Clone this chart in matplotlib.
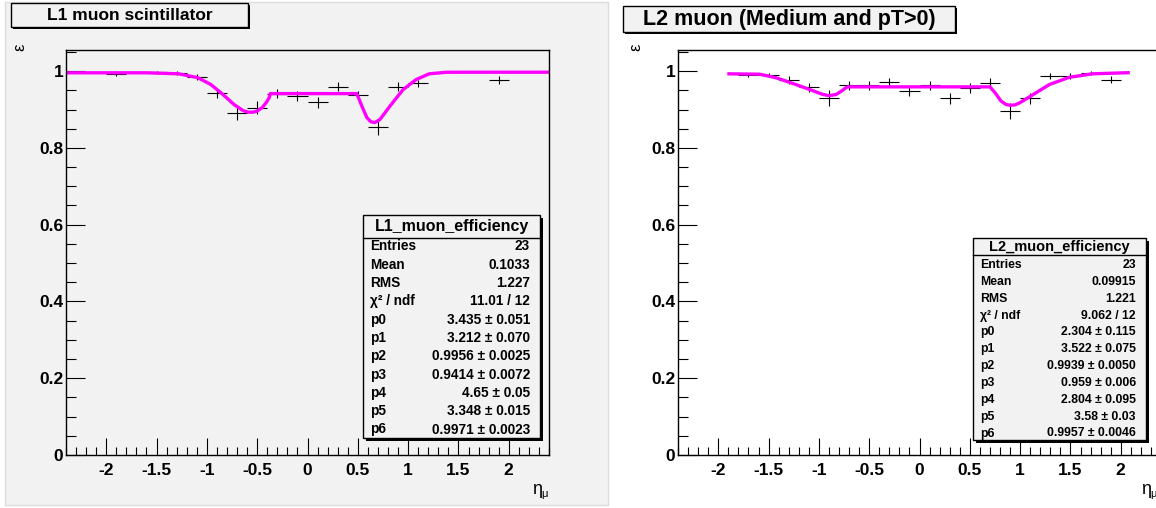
import numpy as np
import matplotlib.pyplot as plt
from matplotlib.patches import Rectangle
from matplotlib.ticker import MultipleLocator

W, H = 1156, 508

# ---- data ----
# L1 muon scintillator
l1_eta = [-1.9, -1.5, -1.3, -1.1, -0.9, -0.7, -0.5, -0.3, -0.1, 0.1, 0.3, 0.5, 0.7, 0.9, 1.1, 1.9]
l1_eff = [0.993, 0.997, 0.994, 0.984, 0.942, 0.892, 0.904, 0.941, 0.935, 0.919, 0.959, 0.939, 0.855, 0.959, 0.968, 0.977]
l1_err = [0.006, 0.004, 0.005, 0.008, 0.012, 0.02, 0.017, 0.012, 0.012, 0.014, 0.012, 0.01, 0.021, 0.012, 0.01, 0.011]
l1_fit_x = [-2.4, -1.6, -1.28, -1.09, -0.96, -0.84, -0.73, -0.64, -0.59, -0.54, -0.50, -0.45, -0.41, -0.38, -0.37, 0.49,
            0.54, 0.59, 0.63, 0.67, 0.72, 0.82, 0.95, 1.08, 1.21, 1.38, 1.6, 2.4]
l1_fit_y = [0.9956, 0.9956, 0.993, 0.983, 0.965, 0.939, 0.913, 0.897, 0.893, 0.893, 0.896, 0.905, 0.918, 0.931, 0.9414, 0.9414,
            0.909, 0.879, 0.868, 0.866, 0.874, 0.909, 0.952, 0.978, 0.993, 0.997, 0.9971, 0.9971]
l1_stats = [("Entries", "23"), ("Mean", "0.1033"), ("RMS", "1.227"), ("χ² / ndf", "11.01 / 12"),
            ("p0", "3.435 ± 0.051"), ("p1", "3.212 ± 0.070"), ("p2", "0.9956 ± 0.0025"),
            ("p3", "0.9414 ± 0.0072"), ("p4", "4.65 ± 0.05"), ("p5", "3.348 ± 0.015"),
            ("p6", "0.9971 ± 0.0023")]

# L2 muon (Medium and pT>0)
l2_eta = [-1.7, -1.5, -1.3, -1.1, -0.9, -0.7, -0.5, -0.3, -0.1, 0.1, 0.3, 0.5, 0.7, 0.9, 1.1, 1.3, 1.5, 1.7, 1.9]
l2_eff = [0.990, 0.991, 0.976, 0.958, 0.930, 0.963, 0.963, 0.972, 0.948, 0.963, 0.929, 0.955, 0.969, 0.896,
          0.929, 0.987, 0.987, 0.996, 0.978]
l2_err = [0.006, 0.005, 0.01, 0.012, 0.02, 0.012, 0.012, 0.01, 0.013, 0.012, 0.014, 0.013, 0.012, 0.021,
          0.014, 0.007, 0.007, 0.005, 0.01]
l2_fit_x = [-1.91, -1.59, -1.43, -1.26, -1.09, -0.97, -0.90, -0.83, -0.77, -0.73, -0.71, 0.70,
            0.75, 0.81, 0.86, 0.90, 0.95, 1.00, 1.13, 1.29, 1.49, 1.72, 2.09]
l2_fit_y = [0.993, 0.992, 0.983, 0.968, 0.952, 0.940, 0.936, 0.939, 0.949, 0.957, 0.959, 0.959,
            0.944, 0.922, 0.913, 0.911, 0.912, 0.918, 0.939, 0.965, 0.984, 0.993, 0.996]
l2_stats = [("Entries", "23"), ("Mean", "0.09915"), ("RMS", "1.221"), ("χ² / ndf", "9.062 / 12"),
            ("p0", "2.304 ± 0.115"), ("p1", "3.522 ± 0.075"), ("p2", "0.9939 ± 0.0050"),
            ("p3", "0.959 ± 0.006"), ("p4", "2.804 ± 0.095"), ("p5", "3.58 ± 0.03"),
            ("p6", "0.9957 ± 0.0046")]

plt.rcParams['font.family'] = ['Liberation Sans', 'DejaVu Sans']


def px(x, y):
    return x / W, 1 - y / H


def box(fig, x0, y0, x1, y1, face, shadow=2.5, zorder=5):
    fig.add_artist(Rectangle(px(x0 + shadow, y1 + shadow), (x1 - x0) / W, (y1 - y0) / H,
                             transform=fig.transFigure, facecolor='black', edgecolor='none', zorder=zorder))
    fig.add_artist(Rectangle(px(x0, y1), (x1 - x0) / W, (y1 - y0) / H, transform=fig.transFigure,
                             facecolor=face, edgecolor='black', linewidth=1, zorder=zorder + 0.1))


fig = plt.figure(figsize=(W / 100, H / 100), dpi=100, facecolor='white')

# left canvas background
fig.add_artist(Rectangle(px(5, 505), 603 / W, 503 / H, transform=fig.transFigure,
                         facecolor='#f2f2f2', edgecolor='#dcdcdc', linewidth=1, zorder=0))


def panel(left, face, eta, eff, err, fx, fy):
    ax = fig.add_axes([left / W, 1 - 455 / H, 483 / W, 405 / H], facecolor=face)
    ax.set_xlim(-2.4, 2.4)
    ax.set_ylim(0, 1.055)
    ax.errorbar(eta, eff, xerr=0.1, yerr=err, fmt='none', ecolor='black', elinewidth=0.8, capsize=0)
    ax.plot(fx, fy, color='#ff00ff', linewidth=2.4, solid_joinstyle='round', solid_capstyle='butt')
    ax.xaxis.set_major_locator(MultipleLocator(0.5))
    ax.xaxis.set_minor_locator(MultipleLocator(0.1))
    ax.yaxis.set_major_locator(MultipleLocator(0.2))
    ax.yaxis.set_minor_locator(MultipleLocator(0.05))
    ax.tick_params(which='both', direction='in', top=False, right=False, width=0.8, labelsize=12.5)
    ax.tick_params(axis='x', which='major', length=12, pad=6)
    ax.tick_params(axis='x', which='minor', length=6)
    ax.tick_params(axis='y', which='major', length=14, pad=2)
    ax.tick_params(axis='y', which='minor', length=7)
    ax.set_xticks([-2, -1.5, -1, -0.5, 0, 0.5, 1, 1.5, 2])
    ax.set_xticklabels(['-2', '-1.5', '-1', '-0.5', '0', '0.5', '1', '1.5', '2'], fontweight='bold')
    ax.set_yticks([0, 0.2, 0.4, 0.6, 0.8, 1])
    ax.set_yticklabels(['0', '0.2', '0.4', '0.6', '0.8', '1'], fontweight='bold')
    for s in ax.spines.values():
        s.set_linewidth(1)
    return ax


ax1 = panel(66, '#f2f2f2', l1_eta, l1_eff, l1_err, l1_fit_x, l1_fit_y)
ax2 = panel(678, 'white', l2_eta, l2_eff, l2_err, l2_fit_x, l2_fit_y)

# axis titles
for ex, hx in [(20, 537), (636, 1146)]:
    fig.text(*px(ex, 47), 'ε', rotation=90, fontsize=12, ha='center', va='center')
    fig.text(*px(hx, 490), 'η', fontsize=13, ha='center', va='center')
    fig.text(*px(hx + 4, 494), 'μ', fontsize=8, ha='left', va='center')

# titles
box(fig, 11, 3, 248, 27, '#f2f2f2', shadow=2)
fig.text(*px(129.5, 15), 'L1 muon scintillator', fontsize=12.5, fontweight='bold',
         ha='center', va='center', zorder=7)
box(fig, 623, 6, 955, 32, '#f2f2f2', shadow=2)
fig.text(*px(789, 19.5), 'L2 muon (Medium and pT>0)', fontsize=15.5, fontweight='bold',
         ha='center', va='center', zorder=7)


def stats(name, rows, x0, x1, y0, y1, sep, row0, step, tsize, rsize):
    box(fig, x0, y0, x1, y1, '#f2f2f2', shadow=2.5)
    fig.add_artist(plt.Line2D([x0 / W, x1 / W], [1 - sep / H, 1 - sep / H], transform=fig.transFigure,
                              color='black', linewidth=1, zorder=6))
    fig.text(*px((x0 + x1) / 2, (y0 + sep) / 2 + 0.5), name, fontsize=tsize, fontweight='bold',
             ha='center', va='center', zorder=7)
    for i, (lab, val) in enumerate(rows):
        yy = row0 + i * step
        fig.text(*px(x0 + 7, yy), lab, fontsize=rsize, fontweight='bold', ha='left', va='center', zorder=7)
        fig.text(*px(x1 - 10, yy), val, fontsize=rsize, fontweight='bold', ha='right', va='center', zorder=7)


stats('L1_muon_efficiency', l1_stats, 363, 540, 215, 438, 238, 246.5, 18.3, 11.5, 9.8)
stats('L2_muon_efficiency', l2_stats, 973, 1146, 238, 440, 255, 265, 16.85, 10.5, 8.8)

fig.savefig('out.png', dpi=100, facecolor='white')
